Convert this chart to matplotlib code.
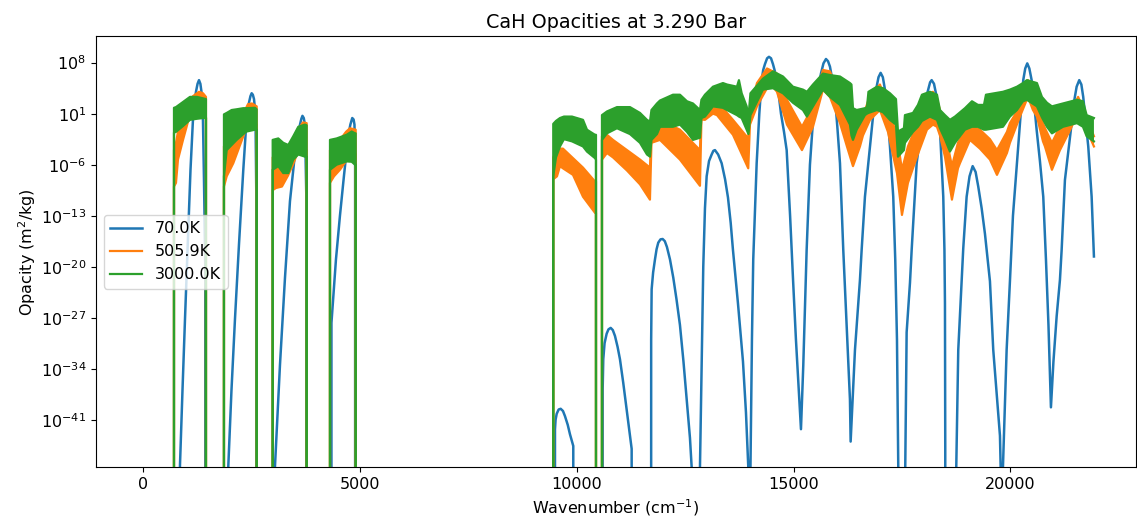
import numpy as np
import matplotlib
matplotlib.use('Agg')
import matplotlib.pyplot as plt
from matplotlib.ticker import NullLocator

Z = -np.inf  # zero opacity, marks the edges of each band

labels = ['70.0K', '505.9K', '3000.0K']
colors = ['#1f77b4', '#ff7f0e', '#2ca02c']

# 70 K -- log10 opacity (m^2/kg) vs wavenumber (cm^-1)
wn_70 = [835, 844, 902, 960, 1029, 1087, 1144, 1180, 1213, 1250, 1283, 1315, 1340, 1375, 1398, 1428, 1444,
         1950, 1959, 2032, 2113, 2205, 2305, 2367, 2436, 2470, 2498, 2525, 2552, 2586, 2605, 2614,
         3030, 3036, 3151, 3267, 3382, 3497, 3613, 3645, 3670, 3700, 3728, 3758, 3767,
         4328, 4339, 4443, 4535, 4628, 4727, 4775, 4819, 4850, 4870, 4885, 4893,
         9484, 9496, 9510, 9535, 9580, 9627, 9680, 9726, 9790, 9842, 9918, 9922,
         10580, 10596, 10610, 10640, 10688, 10730, 10781, 10830, 10880, 10940, 10995, 11070, 11150, 11210, 11265, 11272,
         11703, 11715, 11726, 11760, 11803, 11840, 11879, 11930, 11980, 12030, 12079, 12149, 12225, 12300, 12379,
         12460, 12534, 12610, 12649, 12656,
         12835, 12841, 12875, 12917, 12956, 12995, 13050, 13111, 13150, 13187, 13260, 13341, 13420, 13487, 13550,
         13602, 13717, 13833, 13902, 13955, 13962,
         13990, 14006, 14040, 14070, 14149, 14210, 14264, 14300, 14340, 14390, 14433, 14480, 14525, 14570, 14610,
         14660, 14710, 14780, 14841, 14920, 14990, 15055, 15171,
         15224, 15302, 15378, 15448, 15533, 15632, 15690, 15748, 15795, 15840, 15900, 15955, 16010, 16071, 16147,
         16301, 16317,
         16417, 16532, 16571, 16647, 16802, 16860, 16917, 16960, 17009, 17060, 17109, 17170, 17224, 17300, 17346,
         17386, 17416, 17422,
         17565, 17577, 17609, 17686, 17725, 17840, 17992, 18050, 18108, 18150, 18186, 18240, 18302, 18340, 18378,
         18454, 18481, 18493, 18500, 18507,
         18745, 18754, 18800, 18915, 18993, 19060, 19132, 19200, 19261, 19340, 19416, 19531, 19607, 19762, 19778, 19785,
         19824, 19831, 19916, 19992, 20062, 20154, 20240, 20299, 20345, 20392, 20440, 20493, 20550, 20608, 20684,
         20761, 20823, 20881, 20938,
         20996, 21070, 21146, 21185, 21261, 21416, 21470, 21531, 21591, 21640, 21683, 21740, 21799, 21877, 21930]
logk_70 = [Z, -47.3, -37, -27.2, -16, -6.7, 0.2, 2.5, 4.0, 5.1, 5.6, 5.1, 4.0, 0, -8, -20, Z,
           Z, -47.4, -37, -27.2, -17, -6.7, -1, 2.5, 3.4, 3.8, 3.6, 3.0, 1, -10, Z,
           Z, -47.4, -33.5, -21.5, -11, -4.5, -0.5, 0.3, 0.7, 0.4, -0.5, -10, Z,
           Z, -27.7, -19, -13, -7.5, -2, -0.5, 0.4, 0.2, -0.5, -5, Z,
           Z, -42.3, -41, -40.2, -39.6, -39.5, -39.8, -40.5, -41.7, -43, -44.6, Z,
           Z, -36.8, -32.7, -30.5, -29.2, -28.6, -28.4, -28.7, -29.5, -31, -32.7, -35.9, -39.6, -42.3, -45, Z,
           Z, -30, -23.1, -20.8, -19, -17.6, -16.7, -16.25, -16.2, -16.5, -17.3, -19, -21.5, -24.5, -28,
           -33, -38.2, -43.5, -47.5, Z,
           Z, -47.5, -35, -20, -12, -7.6, -5.5, -4.6, -4.1, -4.0, -4.6, -5.8, -8, -10.5, -14,
           -17.7, -25, -33, -40, -47.4, Z,
           Z, -47.5, -30, -19, -5.8, 1.0, 5.6, 7.0, 7.8, 8.6, 8.8, 8.6, 7.8, 6.8, 5.6,
           3.5, 1.0, -1.5, -4, -13, -22, -30, -42.3,
           -33.6, -17.7, -6, 0, 3.3, 6.5, 7.9, 8.5, 8.2, 7.45, 5.5, 3.3, -0.8, -5.8, -17.7,
           -38.2, -44,
           -31.4, -21.8, -17.7, -10.4, -1.2, 2.2, 4.7, 6.0, 6.6, 6.0, 4.3, 0.8, -3.5, -10.4, -19,
           -30, -47.5, Z,
           Z, -47.5, -29, -22.2, -17.7, -5.8, 1.1, 3.0, 4.3, 5.3, 5.6, 5.1, 3.3, 1.3, -1.2,
           -10.4, -17.7, -25, -45, Z,
           Z, -47.5, -31.4, -17.5, -10.4, -7.6, -6.2, -7.0, -9, -12, -15.5, -22, -31.4, -43.2, -47.5, Z,
           Z, -47.5, -31.4, -22, -13, -5.8, 1.1, 5.6, 7.2, 7.9, 7.2, 5.6, 2.4, -1.2, -5.5,
           -10.4, -19, -28, -39.3,
           -33, -26.8, -21.8, -17.7, -8.1, -0.3, 2.6, 4.7, 5.6, 5.0, 3.3, 0, -3.5, -10.4, -18.6]

# 505.9 K -- upper / lower envelope of the dense line forest (log10)
wn_506 = [706, 706, 752, 798, 914, 1029, 1144, 1283, 1375, 1444, 1444,
          1859, 1859, 1922, 2074, 2305, 2413, 2505, 2614, 2614,
          2983, 2983, 3059, 3197, 3336, 3451, 3567, 3682, 3767, 3767,
          4305, 4305, 4397, 4535, 4674, 4766, 4898, 4898,
          9456, 9456, 9542, 9611, 9680, 9911, 10142, 10418, 10442, 10442,
          10580, 10580, 10695, 10834, 11157, 11457, 11687, 11722, 11918, 12379, 12841,
          12875, 12956, 13141, 13233, 13602, 13955, 13994, 14156, 14387, 14456, 14617, 14848,
          15194, 15448, 15678, 15840, 16071, 16232, 16371, 16532, 16601, 16763, 16993, 17178,
          17386, 17501, 17639, 17847, 18077, 18216, 18309, 18378, 18493, 18654, 18793, 18839,
          19070, 19300, 19531, 19693, 19923, 19992, 20223, 20407, 20523, 20615, 20754, 20800,
          20961, 21146, 21383, 21565, 21715, 21761, 21930]
hi_506 = [Z, -4, -3, -1.5, 0.5, 2.0, 3.4, 4.0, 3.8, 3.3, Z,
          Z, -3.5, -2.5, -1.0, 1.0, 2.3, 2.4, 2.0, Z,
          Z, -5, -5, -5.5, -4.5, -3, -1.2, -0.2, -0.3, Z,
          Z, -4, -3.5, -2.6, -1.5, -1.0, -1.2, Z,
          Z, -5, -4.0, -3.8, -3.8, -5.1, -6.4, -8.3, -8.3, Z,
          Z, -2.1, -1.9, -2.6, -4.0, -5.3, -6.4, -1.2, 0.15, -1.2, -4.0,
          2.4, 2.5, 2.8, 2.7, 0.15, -2.4, 1.5, 5.2, 7.2, 7.0, 6.5, 2.9,
          -0.8, 2.0, 7.0, 6.8, 3.3, 0.6, -2.1, -0.6, 0.6, 3.5, 5.0, 2.0,
          -2.1, -6.7, -3.5, -0.5, 3.5, 4.0, 3.0, 1.5, -1.5, -6.2, -3.0, -2.5,
          -0.5, -1.2, -2.5, -4.0, -1.5, -0.3, 2.0, 5.6, 3.3, 2.0, -0.3, -1.0,
          -3.0, -0.8, 1.1, 3.3, 1.3, 0.5, -2.1]
lo_506 = [Z, -9, -8.5, -5.3, -2.6, -0.1, 1.2, 1.5, 1.0, 0.5, Z,
          Z, -9, -7.6, -5.8, -2.1, -0.5, 0, -0.5, Z,
          Z, -9.5, -9.2, -9, -7.5, -6, -4.2, -3.5, -4, Z,
          Z, -8.5, -7.6, -6.7, -5.5, -4.5, -4.5, Z,
          Z, -8, -7.6, -6.2, -6.5, -7.4, -10.4, -12.6, -12.6, Z,
          Z, -5.3, -4.4, -5.0, -6.8, -8.7, -10.8, -3.0, -2.6, -5.3, -8.9,
          0.2, 0.15, 1.0, 0.8, -1.9, -6.5, -0.5, 2.0, 4.5, 5.2, 4.0, -0.5,
          -4.0, -0.8, 4.3, 3.3, -0.3, -3.5, -6.2, -3.5, -2.0, 0.15, 1.5, -1.5,
          -7.15, -12.9, -8.5, -4.9, -1.2, -0.5, -0.8, -2.0, -4.9, -10.8, -6.5, -5.8,
          -2.6, -3.8, -5.3, -7.4, -4.4, -3.0, 0.6, 3.3, 1.5, 0.6, -2.8, -3.5,
          -6.7, -4.0, -1.2, 1.1, -1.0, -1.2, -3.5]

# 3000 K -- upper / lower envelope (log10)
wn_3000 = [706, 706, 752, 914, 1075, 1237, 1375, 1444, 1444,
           1859, 1859, 1922, 2037, 2152, 2305, 2383, 2575, 2614, 2614,
           2983, 2983, 3112, 3227, 3343, 3458, 3574, 3728, 3767, 3767,
           4305, 4305, 4459, 4690, 4806, 4882, 4898, 4898,
           9456, 9456, 9519, 9611, 9703, 9888, 10142, 10234, 10418, 10442, 10442,
           10580, 10580, 10695, 10926, 11226, 11457, 11618, 11687, 11722, 11849, 11918, 12218, 12379,
           12541, 12679, 12841, 12875, 12956, 13141, 13371, 13464, 13694, 13740, 13803, 13918,
           13960, 14006, 14294, 14525, 14756, 14986, 15217, 15309, 15448, 15678, 15840, 16071,
           16301, 16336, 16371, 16456, 16647, 16694, 16728, 16924, 17063, 17224, 17363, 17409,
           17547, 17570, 17755, 17870, 17962, 18147, 18309, 18378, 18493, 18608, 18724, 18954,
           19116, 19254, 19393, 19439, 19831, 19992, 20154, 20292, 20384, 20615, 20730, 20846,
           20961, 21216, 21539, 21677, 21762, 21930]
hi_3000 = [Z, 1.8, 1.9, 2.6, 3.3, 3.3, 3.1, 3.0, Z,
           Z, 0.9, 1.1, 1.5, 1.6, 1.75, 1.75, 1.8, 1.6, Z,
           Z, -2.6, -2.4, -3.0, -3.3, -2.1, -0.8, -0.5, -0.6, Z,
           Z, -2.6, -2.4, -1.9, -1.45, -1.7, -1.7, Z,
           Z, -0.4, 0.0, 0.4, 0.6, 0.6, 0.15, -1.2, -1.9, -1.9, Z,
           Z, 0.8, 1.3, 1.9, 1.9, 1.1, 0.15, -0.1, 1.5, 2.4, 2.8, 3.6, 3.6,
           2.7, 2.4, 1.5, 2.9, 3.6, 4.7, 5.2, 5.0, 4.7, 5.6, 3.8, 2.0,
           0.6, 3.8, 5.8, 6.8, 6.1, 4.7, 4.3, 4.0, 5.0, 6.5, 6.3, 6.1,
           5.2, 5.0, 1.75, 1.5, 1.75, 1.9, 4.0, 4.7, 4.5, 3.8, 3.0, -1.45,
           -1.0, 0.8, 1.1, 2.2, 3.6, 4.0, 3.6, 1.5, 0.8, 0.15, 0.6, 1.75,
           2.7, 2.2, 2.2, 3.6, 4.0, 4.3, 4.7, 5.2, 5.6, 5.2, 3.3, 2.5,
           2.0, 2.4, 2.9, 2.7, 0.8, 0.4]
lo_3000 = [Z, -1.6, -1.5, -0.7, 0.15, 0.3, 0.4, 0.4, Z,
           Z, -7.6, -4.0, -3.3, -2.6, -1.8, -1.45, -1.2, -1.2, Z,
           Z, -6.7, -6.2, -7.15, -7.15, -5.3, -4.6, -4.9, -4.9, Z,
           Z, -6.7, -6.0, -5.55, -5.6, -6.0, -6.0, Z,
           Z, -7.6, -5.0, -3.5, -2.5, -2.8, -3.5, -4.2, -5.1, -5.3, Z,
           Z, -2.6, -1.7, -1.0, -1.8, -3.0, -4.6, -4.9, -2.6, -1.8, -0.8, -0.8, -0.5,
           -1.5, -2.6, -2.3, 0.4, 0.6, 2.0, 1.8, 1.5, 0.8, 0.6, 0.4, -1.2,
           -1.8, 0.8, 4.3, 4.5, 3.8, 2.5, 1.5, 0.6, 2.0, 4.3, 3.3, 2.2,
           -0.5, -2.0, -2.6, -1.2, 0.8, 1.0, 1.1, 1.5, 1.2, 0.15, -0.5, -4.9,
           -4.0, -3.0, -1.5, -0.8, 0.0, 0.6, 0.15, -1.0, -2.5, -4.2, -3.0, -1.2,
           -0.8, -0.8, -1.2, -1.2, -0.8, 0.6, 1.5, 2.7, 2.9, 2.0, 0.5, -0.8,
           -1.7, -0.8, -0.3, -0.8, -2.1, -2.8]

plt.rcParams['font.size'] = 11.5
fig = plt.figure(figsize=(11.37, 5.26), dpi=100)
ax = fig.add_axes([0.0844, 0.1116, 0.9147, 0.8200])
ax.set_yscale('log', nonpositive='clip')

ax.plot(wn_70, np.power(10.0, logk_70), color=colors[0], lw=1.8, label=labels[0], zorder=2)

bands = [(wn_506, hi_506, lo_506, colors[1], labels[1], 3),
         (wn_3000, hi_3000, lo_3000, colors[2], labels[2], 4)]
for wn, hi, lo, c, lab, z in bands:
    top = np.power(10.0, hi)
    bot = np.power(10.0, lo)
    ax.fill_between(wn, bot, top, color=c, lw=0, zorder=z)
    ax.plot(wn, top, color=c, lw=1.6, label=lab, zorder=z)
    ax.plot(wn, bot, color=c, lw=1.6, zorder=z)

ax.set_xlim(-1094, 22900)
ax.set_ylim(10 ** -47.53, 10 ** 11.66)
ax.set_yticks([10.0 ** k for k in range(-41, 9, 7)])
ax.yaxis.set_minor_locator(NullLocator())

ax.set_title('CaH Opacities at 3.290 Bar')
ax.set_xlabel('Wavenumber (cm$^{-1}$)')
ax.set_ylabel('Opacity (m$^2$/kg)', labelpad=2)
ax.legend(loc='center left')

fig.savefig('out.png', dpi=100)
